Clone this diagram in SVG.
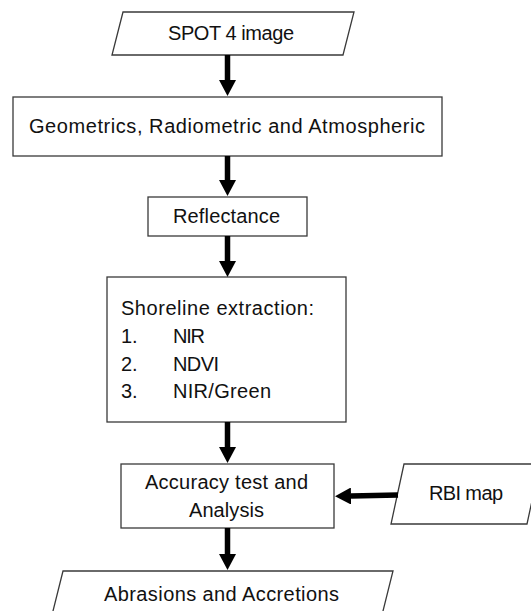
<svg xmlns="http://www.w3.org/2000/svg" width="531" height="611" viewBox="0 0 531 611">
  <style>
    .shape { fill: #ffffff; stroke: #3a3a3a; stroke-width: 1.3; }
    .lbl { font-family: "Liberation Sans", Arial, sans-serif; font-size: 20px; fill: #111111; }
    .conn { stroke: #000000; stroke-width: 5.5; fill: none; marker-end: url(#head); }
  </style>
  <defs>
    <marker id="head" viewBox="0 0 16 17" refX="0" refY="8.5" markerWidth="16" markerHeight="17" markerUnits="userSpaceOnUse" orient="auto">
      <path d="M0,0 L16,8.5 L0,17 Z" fill="#000000"/>
    </marker>
  </defs>
  <rect width="531" height="611" fill="#ffffff"/>

  <g id="spot4">
    <polygon class="shape" points="123,12 354,12 343,55 112,55"/>
    <text class="lbl" x="168" y="40" textLength="126">SPOT 4 image</text>
  </g>

  <g id="geometrics">
    <rect class="shape" x="13" y="97" width="429" height="59"/>
    <text class="lbl" x="29" y="133" textLength="396">Geometrics, Radiometric and Atmospheric</text>
  </g>

  <g id="reflectance">
    <rect class="shape" x="148" y="197" width="159" height="39"/>
    <text class="lbl" x="173" y="223" textLength="107">Reflectance</text>
  </g>

  <g id="shoreline">
    <rect class="shape" x="107" y="277" width="239" height="145"/>
    <text class="lbl" x="121" y="315" textLength="193">Shoreline extraction:</text>
    <text class="lbl" x="121" y="343">1.</text>
    <text class="lbl" x="173" y="343" textLength="32">NIR</text>
    <text class="lbl" x="121" y="370.5">2.</text>
    <text class="lbl" x="173" y="370.5" textLength="46">NDVI</text>
    <text class="lbl" x="121" y="398">3.</text>
    <text class="lbl" x="173" y="398" textLength="98">NIR/Green</text>
  </g>

  <g id="accuracy">
    <rect class="shape" x="121" y="464" width="213" height="64"/>
    <text class="lbl" x="145" y="489" textLength="163">Accuracy test and</text>
    <text class="lbl" x="189" y="517" textLength="75">Analysis</text>
  </g>

  <g id="rbi">
    <polygon class="shape" points="404,464 540,464 527,524 391,524"/>
    <text class="lbl" x="429" y="500" textLength="74">RBI map</text>
  </g>

  <g id="abrasions">
    <polygon class="shape" points="63,571 393,571 382,615 52,615"/>
    <text class="lbl" x="104" y="601" textLength="235">Abrasions and Accretions</text>
  </g>

  <g id="connectors">
    <line class="conn" x1="227.5" y1="55" x2="227.5" y2="80"/>
    <line class="conn" x1="227.5" y1="156" x2="227.5" y2="180"/>
    <line class="conn" x1="227.5" y1="236" x2="227.5" y2="261"/>
    <line class="conn" x1="227.5" y1="422" x2="227.5" y2="447"/>
    <line class="conn" x1="227.5" y1="528" x2="227.5" y2="554"/>
    <line class="conn" x1="398" y1="495" x2="351" y2="496"/>
  </g>
</svg>
